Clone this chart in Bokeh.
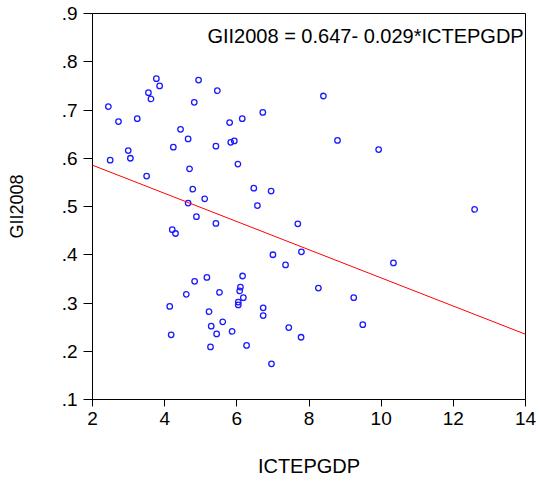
from bokeh.plotting import figure
from bokeh.models import ColumnDataSource, FixedTicker, CustomJSTickFormatter, Slope, Label, Range1d
from bokeh.embed import file_html
from bokeh.resources import INLINE

# ICTEPGDP (x) and GII2008 (y) values
ictepgdp = [3.77, 3.86, 3.55, 3.62, 4.94, 5.46, 4.82, 2.44, 2.72, 3.24,
            4.44, 4.65, 4.24, 5.42, 5.80, 5.83, 5.93, 2.99, 3.05, 2.49,
            4.69, 6.03, 3.50, 4.78, 5.11, 4.65, 8.40, 6.72, 6.15, 8.79,
            6.47, 6.95, 6.57, 4.88, 5.42, 4.21, 4.30, 5.17, 4.83, 4.60,
            5.52, 4.14, 5.23, 5.61, 5.29, 4.18, 5.44, 5.87, 5.27, 7.69,
            7.00, 7.79, 7.35, 6.16, 6.10, 6.08, 6.18, 6.04, 6.04, 6.73,
            6.73, 8.26, 9.24, 9.49, 7.44, 7.78, 6.27, 6.96, 9.93, 12.59,
            10.34]
gii2008 = [0.765, 0.750, 0.736, 0.723, 0.762, 0.740, 0.716, 0.707, 0.676, 0.682,
           0.660, 0.640, 0.623, 0.625, 0.674, 0.633, 0.636, 0.616, 0.600, 0.596,
           0.578, 0.588, 0.563, 0.536, 0.516, 0.507, 0.729, 0.695, 0.682, 0.637,
           0.538, 0.532, 0.502, 0.479, 0.465, 0.452, 0.444, 0.353, 0.345, 0.318,
           0.322, 0.293, 0.282, 0.261, 0.252, 0.234, 0.236, 0.241, 0.209, 0.464,
           0.400, 0.406, 0.379, 0.356, 0.333, 0.325, 0.311, 0.302, 0.296, 0.290,
           0.274, 0.331, 0.311, 0.255, 0.249, 0.229, 0.212, 0.174, 0.618, 0.494,
           0.383]

fit_intercept = 0.644
fit_slope = -0.0292
equation_text = "GII2008 = 0.647- 0.029*ICTEPGDP"

x_ticks = [2, 4, 6, 8, 10, 12, 14]
y_ticks = [0.1, 0.2, 0.3, 0.4, 0.5, 0.6, 0.7, 0.8, 0.9]

FONT = "Liberation Sans"

p = figure(width=540, height=482, output_backend="svg", toolbar_location=None,
           x_range=Range1d(2, 14), y_range=Range1d(0.1, 0.9),
           min_border_left=92, min_border_right=15, min_border_top=13, min_border_bottom=83,
           background_fill_color="white", border_fill_color="white")
p.grid.visible = False
p.outline_line_color = "black"
p.outline_line_width = 1

src = ColumnDataSource(data=dict(x=ictepgdp, y=gii2008))
p.scatter("x", "y", source=src, marker="circle", size=5.5, fill_color=None,
          line_color="#1a1aff", line_width=1.3)

p.add_layout(Slope(gradient=fit_slope, y_intercept=fit_intercept,
                   line_color="#ff0000", line_width=1))

p.add_layout(Label(x=13.95, y=0.854, text=equation_text, text_align="right",
                   text_baseline="alphabetic", text_font=FONT, text_font_size="20px",
                   text_color="black"))

for ax in (p.xaxis[0], p.yaxis[0]):
    ax.axis_line_color = "black"
    ax.major_tick_line_color = "black"
    ax.minor_tick_line_color = None
    ax.major_tick_in = 0
    ax.major_label_text_font = FONT
    ax.major_label_text_color = "black"
    ax.axis_label_text_font = FONT
    ax.axis_label_text_font_style = "normal"
    ax.axis_label_text_color = "black"

p.xaxis.ticker = FixedTicker(ticks=x_ticks)
p.xaxis.major_tick_out = 7
p.xaxis.major_label_standoff = 5
p.xaxis.major_label_text_font_size = "19px"
p.xaxis.axis_label = "ICTEPGDP"
p.xaxis.axis_label_text_font_size = "20px"
p.xaxis.axis_label_standoff = 27

p.yaxis.ticker = FixedTicker(ticks=y_ticks)
p.yaxis.formatter = CustomJSTickFormatter(code="return tick.toFixed(1).replace(/^0/, '');")
p.yaxis.major_tick_out = 9
p.yaxis.major_label_standoff = 6
p.yaxis.major_label_text_font_size = "19px"
p.yaxis.axis_label = "GII2008"
p.yaxis.axis_label_text_font_size = "18px"
p.yaxis.axis_label_standoff = 32

open("out.html", "w").write(file_html(p, INLINE))
